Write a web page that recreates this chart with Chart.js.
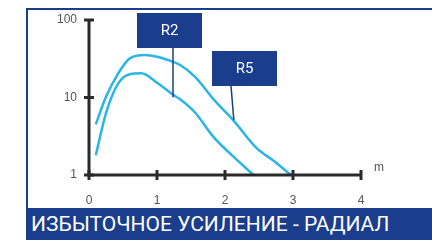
<!DOCTYPE html>
<html>
<head>
<meta charset="utf-8">
<script src="https://cdn.jsdelivr.net/npm/chart.js@4/dist/chart.umd.min.js"></script>
<style>
  body { margin: 0; background: #fff; }
  #wrap { position: relative; width: 432px; height: 240px; overflow: hidden; }
  #frame { position: absolute; left: 26px; top: 8px; right: 0; height: 200px;
           border-left: 2px solid #1b3e8c; border-top: 2px solid #1b3e8c; }
  #banner { position: absolute; left: 26px; top: 208px; right: 0; height: 32px;
            background: #1b3e8c; color: #fff; font-family: Roboto, sans-serif;
            font-size: 21px; line-height: 32px; padding-left: 5px; white-space: nowrap; }
  canvas { position: absolute; left: 0; top: 0; }
</style>
</head>
<body>
<div id="wrap">
  <div id="frame"></div>
  <canvas id="chart" width="432" height="240"></canvas>
  <div id="banner">ИЗБЫТОЧНОЕ УСИЛЕНИЕ - РАДИАЛ</div>
</div>
<script>
// distance (m) and excess gain values
const r5X = [0.1, 0.25, 0.43, 0.6, 0.82, 1.0, 1.16, 1.34, 1.56, 1.85, 2.12, 2.47, 2.7, 2.97];
const r5Y = [4.5, 10.2, 20.5, 32, 35.3, 33.6, 30.5, 26.3, 18.5, 9.1, 5.1, 2.2, 1.56, 1];
const r2X = [0.1, 0.25, 0.43, 0.6, 0.77, 1.0, 1.24, 1.34, 1.56, 1.83, 2.1, 2.42];
const r2Y = [1.8, 6.3, 15.2, 20, 20.5, 15.5, 10.8, 9.5, 6.4, 3.1, 1.8, 1];
const yTicks = [1, 10, 100];
const xTicks = [0, 1, 2, 3, 4];
// callouts: label and the point on the curve the leader line points to
const callouts = [
  { text: "R2", box: [137, 13, 65, 35], from: 36, at: [1.235, 10.1] },
  { text: "R5", box: [212, 51, 65, 35], from: 19, at: [2.13, 5.1] }
];

const BLUE = "#1b3e8c";
const CURVE = "#2bb5e6";
const AXIS = "#2a2a2a";

function pts(xs, ys) {
  return xs.map((x, i) => ({ x: x, y: ys[i] }));
}

const axesPlugin = {
  id: "axes",
  afterDraw(chart) {
    const ctx = chart.ctx;
    const xs = chart.scales.x, ys = chart.scales.y;
    const a = chart.chartArea;
    ctx.save();
    ctx.strokeStyle = AXIS;
    ctx.lineWidth = 3;
    ctx.beginPath();
    ctx.moveTo(a.left, a.top);
    ctx.lineTo(a.left, a.bottom);
    ctx.lineTo(a.right, a.bottom);
    ctx.stroke();
    // tick marks crossing the axes
    ctx.lineWidth = 3;
    yTicks.forEach(v => {
      const y = ys.getPixelForValue(v);
      ctx.beginPath();
      ctx.moveTo(a.left - 5, y);
      ctx.lineTo(a.left + 5, y);
      ctx.stroke();
    });
    xTicks.forEach(v => {
      const x = xs.getPixelForValue(v);
      ctx.beginPath();
      ctx.moveTo(x, a.bottom - 5);
      ctx.lineTo(x, a.bottom + 5);
      ctx.stroke();
    });
    ctx.fillStyle = "#555";
    ctx.font = "12px 'Liberation Sans', Arial, sans-serif";
    ctx.textAlign = "left";
    ctx.textBaseline = "middle";
    ctx.fillText("m", a.right + 13, a.bottom - 7);

    callouts.forEach(c => {
      const [bx, by, bw, bh] = c.box;
      const px = xs.getPixelForValue(c.at[0]);
      const py = ys.getPixelForValue(c.at[1]);
      ctx.strokeStyle = BLUE;
      ctx.lineWidth = 1.5;
      ctx.beginPath();
      ctx.moveTo(bx + c.from, by + bh);
      ctx.lineTo(px, py);
      ctx.stroke();
      ctx.fillStyle = BLUE;
      ctx.fillRect(bx, by, bw, bh);
      ctx.fillStyle = "#fff";
      ctx.font = "15px Roboto, sans-serif";
      ctx.textAlign = "center";
      ctx.textBaseline = "middle";
      ctx.fillText(c.text, bx + bw / 2, by + bh / 2 + 1);
    });
    ctx.restore();
  }
};

new Chart(document.getElementById("chart"), {
  type: "line",
  data: {
    datasets: [
      { label: "R5", data: pts(r5X, r5Y), borderColor: CURVE, borderWidth: 2.5,
        pointRadius: 0, fill: false, cubicInterpolationMode: "monotone" },
      { label: "R2", data: pts(r2X, r2Y), borderColor: CURVE, borderWidth: 2.5,
        pointRadius: 0, fill: false, cubicInterpolationMode: "monotone" }
    ]
  },
  options: {
    responsive: false,
    animation: false,
    layout: { padding: { left: 0, top: 20, right: 71, bottom: 0 } },
    plugins: { legend: { display: false }, tooltip: { enabled: false } },
    scales: {
      x: {
        type: "linear", min: 0, max: 4,
        grid: { display: false, drawTicks: false },
        border: { display: false },
        ticks: { stepSize: 1, padding: 18, color: "#555",
                 font: { family: "'Liberation Sans', Arial, sans-serif", size: 12 } },
        afterFit(s) { s.height = 65; }
      },
      y: {
        type: "logarithmic", min: 1, max: 100,
        grid: { display: false, drawTicks: false },
        border: { display: false },
        afterBuildTicks(s) { s.ticks = yTicks.map(v => ({ value: v })); },
        ticks: { padding: 12, color: "#555", callback: v => String(v),
                 font: { family: "'Liberation Sans', Arial, sans-serif", size: 12 } },
        afterFit(s) { s.width = 89; }
      }
    }
  },
  plugins: [axesPlugin]
});
</script>
</body>
</html>
